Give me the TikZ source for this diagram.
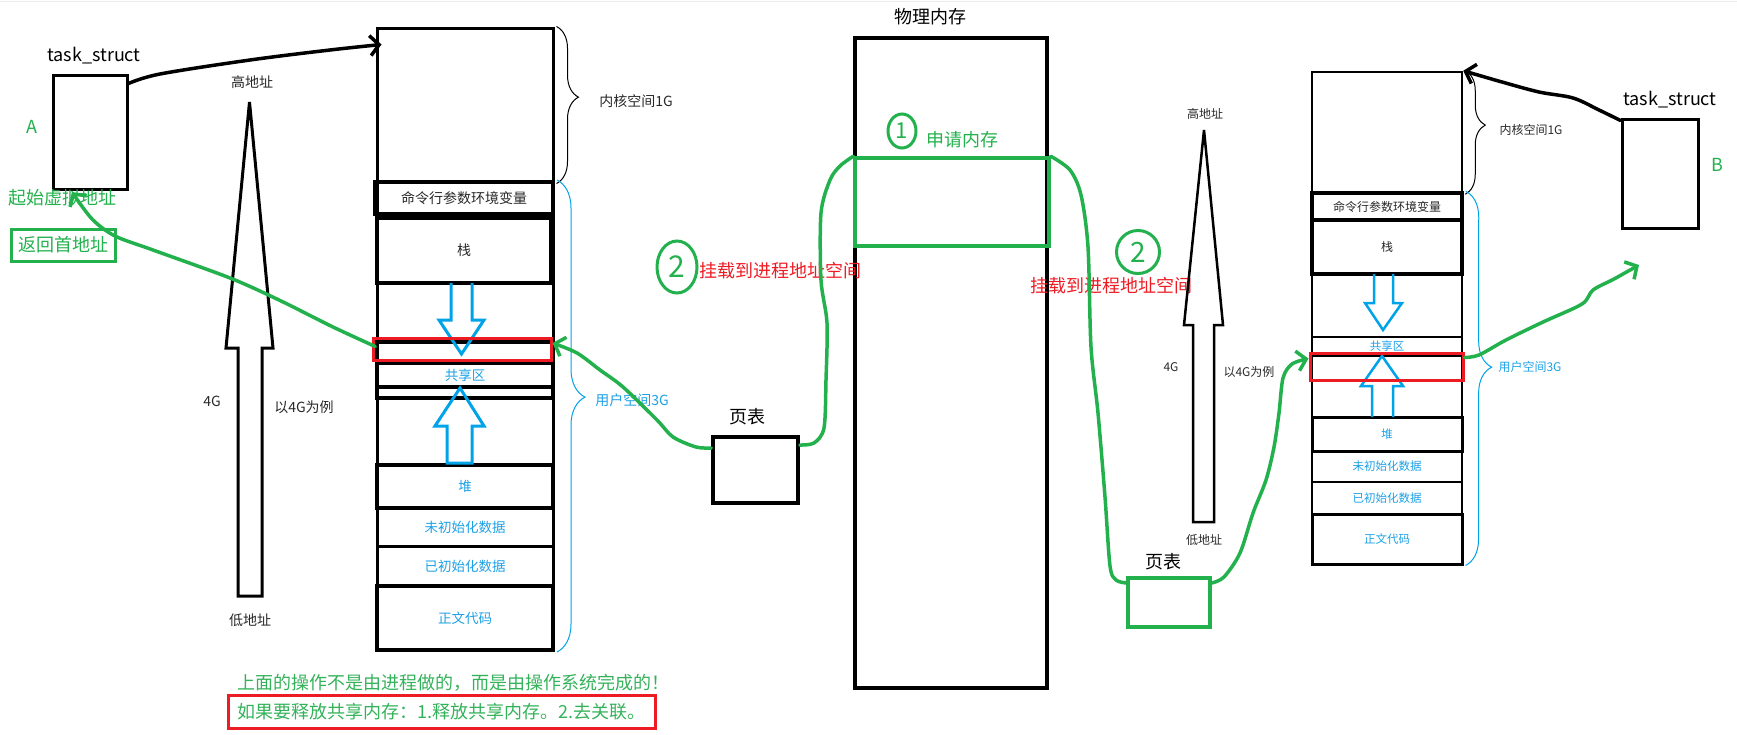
\documentclass[tikz,border=0pt]{standalone}
\usepackage{fontspec}
\setmainfont{Noto Sans CJK SC}
\usetikzlibrary{arrows.meta,decorations.pathreplacing,shapes.geometric}
\definecolor{pgreen}{RGB}{34,177,76}
\definecolor{tgreen}{RGB}{52,178,90}
\definecolor{pred}{RGB}{237,28,36}
\definecolor{pblue}{RGB}{0,162,232}
\definecolor{tblue}{RGB}{28,160,230}
\definecolor{dgray}{RGB}{40,40,40}
\newcommand\myfs[1]{\fontsize{#1}{#1}\selectfont}
\begin{document}
\begin{tikzpicture}[x=1pt,y=-1pt,
  memseg/.style 2 args={draw,line width=3pt,inner sep=0pt,minimum width=#1,minimum height=#2},
  bigtxt/.style={font=\myfs{18},inner sep=0pt},
  lbl/.style={font=\myfs{14},inner sep=0pt,text=dgray},
  lblB/.style={font=\myfs{12},inner sep=0pt,text=dgray},
  segA/.style={font=\myfs{13.5},text=tblue},
  segB/.style={font=\myfs{11.5},text=tblue},
  gline/.style={draw=pgreen,line width=3.5pt,line cap=round,line join=round},
  bline/.style={draw=black,line width=3.5pt,line cap=round,line join=round},
  barb/.style={-{Straight Barb[length=9pt,width=20pt]}},
  hollow/.style={draw=pblue,line width=3pt,line join=miter},
  bigarrow/.style={draw=black,line width=3pt,line join=miter},
  numcirc/.style={draw=pgreen,line width=3pt,ellipse,inner sep=0pt,text=pgreen,font=\myfs{24}}
]
\useasboundingbox (0,0) rectangle (1737,734);
\draw[line width=1.5pt,color=black!8] (0,1.5) -- (1737,1.5);

%%%%%%%% Left process A
\node[memseg={74}{114}] (taskA) at (90,132) {};
\node[bigtxt] (taskAl) at (94,56) {task\_struct};
\node[bigtxt,text=pgreen] (labA) at (32,127) {A};
\node[bigtxt,text=pgreen] (startA) at (63,198) {起始虚拟地址};
\node[memseg={104}{32},draw=pgreen,bigtxt,text=pgreen] (retA) at (63,245) {返回首地址};

% address arrow A
\draw[bigarrow] (238,596) -- (238,348) -- (226,348) -- (249.5,102) -- (273,348) -- (262,348) -- (262,596) -- cycle;
\node[lbl] (hiA) at (252,82) {高地址};
\node[lbl] (loA) at (250,620) {低地址};
\node[lbl] (gA) at (212,401) {4G};
\node[lbl] (egA) at (304,407) {以4G为例};

% memory column A
\node[memseg={176}{622}] (colA) at (465,339) {};
\node[memseg={176}{154}] (kernA) at (465,105) {};
\node[memseg={178}{32},line width=4pt,lbl] (cmdA) at (464,198) {命令行参数环境变量};
\node[memseg={174}{65},line width=4pt,lbl] (stackA) at (464,250.5) {栈};
\node[memseg={176}{21},line width=3.5pt] (slotA) at (465,352.5) {};
\node[memseg={176}{24},line width=4pt,segA] (shareA) at (465,375) {共享区};
\node[memseg={176}{11},line width=3.5pt] (bandA) at (465,392.5) {};
\node[memseg={176}{43},line width=3.5pt,segA] (heapA) at (465,486.5) {堆};
\node[memseg={176}{38},segA] (bssA) at (465,527) {未初始化数据};
\node[memseg={176}{40},segA] (dataA) at (465,566) {已初始化数据};
\node[memseg={176}{64},line width=4pt,segA] (codeA) at (465,618) {正文代码};
\draw[hollow] (451,283) -- (451,320) -- (439,320) -- (461.5,354) -- (484,320) -- (472,320) -- (472,283);
\draw[hollow] (447,463) -- (447,426) -- (435,426) -- (460,388) -- (484,426) -- (472,426) -- (472,463) -- cycle;
\node[memseg={178}{22},draw=pred] (mapA) at (462,349) {};

\draw[line width=1pt,decorate,decoration={brace,amplitude=22pt,aspect=0.45}]
  ([xshift=2pt]kernA.north east) -- ([xshift=2pt]kernA.south east);
\draw[line width=1pt,draw=pblue,decorate,decoration={brace,amplitude=28pt,aspect=0.46}]
  ([xshift=2pt]cmdA.north east) -- ([xshift=2pt]codeA.south east);
\node[lbl] (kernAl) at (636,101) {内核空间1G};
\node[lbl,text=tblue] (userAl) at (632,400) {用户空间3G};

\draw[bline,barb] plot[smooth,tension=0.55] coordinates {([yshift=-10pt]taskA.north east) (160,74) (250,60) (330,50) ([xshift=6pt,yshift=-18pt]kernA.north west)};

%%%%%%%% Page table A
\node[memseg={85}{66},line width=3.5pt] (ptA) at (755.5,470) {};
\node[bigtxt] (ptAl) at (747,417) {页表};

%%%%%%%% Physical memory
\node[memseg={192}{650},line width=3.5pt] (phys) at (951,363) {};
\node[bigtxt] (physl) at (930,17) {物理内存};
\node[memseg={194}{88},line width=3.5pt,draw=pgreen] (gbox) at (952,202) {};
\node[numcirc,minimum width=28,minimum height=34,font=\myfs{22}] (c1) at (902,131) {1};
\node[bigtxt,text=pgreen] (reqm) at (962,140) {申请内存};
\node[numcirc,minimum width=40,minimum height=52,font=\myfs{30}] (c2a) at (677,267) {2};
\node[bigtxt,text=pred] (mountA) at (780,271) {挂载到进程地址空间};
\node[numcirc,minimum width=43,minimum height=43,font=\myfs{28}] (c2b) at (1138,252) {2};
\node[bigtxt,text=pred] (mountB) at (1111.5,286) {挂载到进程地址空间};

%%%%%%%% Page table B
\node[memseg={82}{49},line width=3.5pt,draw=pgreen] (ptB) at (1169,602.5) {};
\node[bigtxt] (ptBl) at (1163,562) {页表};

%%%%%%%% Right process B
\draw[bigarrow,line width=2.5pt] (1193,522) -- (1193,325) -- (1184,325) -- (1204,130) -- (1223,325) -- (1214,325) -- (1214,522) -- cycle;
\node[lblB] (hiB) at (1205,114) {高地址};
\node[lblB] (loB) at (1204,540) {低地址};
\node[lblB] (gB) at (1171,367) {4G};
\node[lblB] (egB) at (1249,372) {以4G为例};

\node[memseg={150}{492},line width=2.5pt] (colB) at (1387,318) {};
\node[memseg={150}{121},line width=2.5pt] (kernB) at (1387,132.5) {};
\node[memseg={150}{27},line width=3.5pt,lblB] (cmdB) at (1387,206.5) {命令行参数环境变量};
\node[memseg={150}{54},line width=3.5pt,lblB] (stackB) at (1387,247) {栈};
\node[memseg={150}{19},line width=2.5pt,segB] (shareB) at (1387,346.5) {共享区};
\node[memseg={150}{24},line width=2.5pt] (slotB) at (1387,368) {};
\node[memseg={150}{34},line width=3pt,segB] (heapB) at (1387,434) {堆};
\node[memseg={150}{31},line width=2.5pt,segB] (bssB) at (1387,466.5) {未初始化数据};
\node[memseg={150}{32},line width=2.5pt,segB] (dataB) at (1387,498) {已初始化数据};
\node[memseg={150}{50},line width=3pt,segB] (codeB) at (1387,539) {正文代码};
\draw[hollow,line width=2.5pt] (1374,274) -- (1374,303) -- (1365,303) -- (1383,330) -- (1402,303) -- (1393,303) -- (1393,274);
\draw[hollow,line width=2.5pt] (1372,417) -- (1372,386) -- (1361,386) -- (1382,356) -- (1403,386) -- (1393,386) -- (1393,417);
\node[memseg={153}{27},draw=pred] (mapB) at (1386.5,366.5) {};

\draw[line width=1pt,decorate,decoration={brace,amplitude=20pt,aspect=0.44}]
  ([xshift=2pt]kernB.north east) -- ([xshift=2pt]kernB.south east);
\draw[line width=1pt,draw=pblue,decorate,decoration={brace,amplitude=26pt,aspect=0.47}]
  ([xshift=2pt]cmdB.north east) -- ([xshift=2pt]codeB.south east);
\node[lblB] (kernBl) at (1531,130) {内核空间1G};
\node[lblB,text=tblue] (userBl) at (1530,367) {用户空间3G};

\node[memseg={76}{109}] (taskB) at (1660,173.5) {};
\node[bigtxt] (taskBl) at (1670,100) {task\_struct};
\node[bigtxt,text=pgreen] (labB) at (1717,165) {B};
\draw[bline,barb] plot[smooth,tension=0.55] coordinates {([yshift=-3pt]taskB.north west) (1599,110) (1573,98) (1539,92) (1502,82) (kernB.north east)};

%%%%%%%% Green connectors
\draw[gline,barb] plot[smooth,tension=0.5] coordinates {([yshift=6pt]slotA.west) (333,327) (279,300) (230,278) (153,250) (115,236) (92,219) ([xshift=9pt,yshift=6pt]startA.center)};
\draw[gline,barb] plot[smooth,tension=0.5] coordinates {([yshift=22pt]ptA.west) (696,447) (673,437) (657,420) (623,387) (600,370) (577,353) ([yshift=6pt]mapA.east)};
\draw[gline] plot[smooth,tension=0.5] coordinates {([yshift=25pt]ptA.east) (814,443) (824,428) (826,380) (827,323) (821,280) (821,213) (830,180) (840,166) (gbox.north west)};
\draw[gline] plot[smooth,tension=0.5] coordinates {(gbox.north east) (1070,170) (1081,195) (1088,247) (1091,347) (1098,413) (1105,497) (1110,566) (1116,580) ([yshift=19.5pt]ptB.west)};
\draw[gline,barb] plot[smooth,tension=0.5] coordinates {([yshift=19.5pt]ptB.east) (1224,577) (1240,553) (1253,513) (1266,480) (1274,447) (1279,413) (1283,378) (1292,364) ([yshift=8pt]mapB.west)};
\coordinate (freeB) at (1639,265);
\draw[gline,barb] plot[smooth,tension=0.5] coordinates {([yshift=9pt]mapB.east) (1479,355) (1506,340) (1543,322) (1582,304) (1593,290) (1614,279) (freeB)};

%%%%%%%% Bottom notes
\node[bigtxt,text=tgreen] (note1) at (453,683) {上面的操作不是由进程做的，而是由操作系统完成的！};
\node[memseg={427}{33},draw=pred,bigtxt,text=tgreen] (note2) at (441.5,711.5) {如果要释放共享内存：1.释放共享内存。2.去关联。};
\end{tikzpicture}
\end{document}
